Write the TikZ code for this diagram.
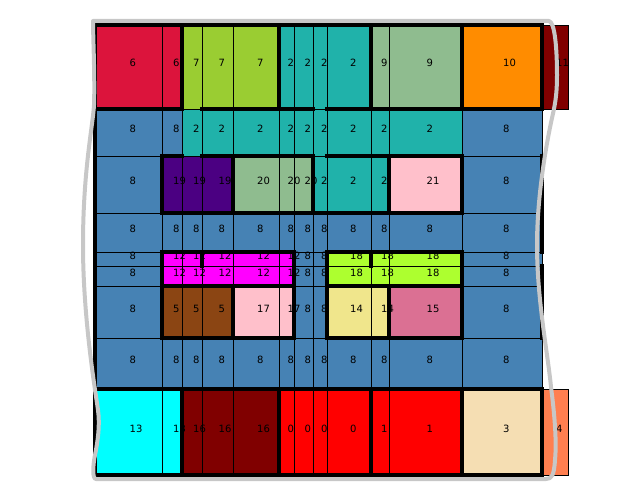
\documentclass[tikz,border=0pt]{standalone}
\usepackage{fontspec}
\setmainfont{DejaVu Sans}
\usepackage{tikz}
\usetikzlibrary{backgrounds}

\definecolor{crimsonc}{HTML}{DC143C}
\definecolor{ygreenc}{HTML}{9ACD32}
\definecolor{lseac}{HTML}{20B2AA}
\definecolor{dseac}{HTML}{8FBC8F}
\definecolor{dorangec}{HTML}{FF8C00}
\definecolor{maroonc}{HTML}{800000}
\definecolor{steelc}{HTML}{4682B4}
\definecolor{indigoc}{HTML}{4B0082}
\definecolor{pinkc}{HTML}{FFC0CB}
\definecolor{magentac}{HTML}{FF00FF}
\definecolor{gyellowc}{HTML}{ADFF2F}
\definecolor{brownc}{HTML}{8B4513}
\definecolor{khakic}{HTML}{F0E68C}
\definecolor{pvioletc}{HTML}{DB7093}
\definecolor{cyanc}{HTML}{00FFFF}
\definecolor{redc}{HTML}{FF0000}
\definecolor{wheatc}{HTML}{F5DEB3}
\definecolor{coralc}{HTML}{FF7F50}

% celda: x izq, x der, y sup, y inf, etiqueta, color
\newcommand{\celda}[6]{%
  \begin{scope}[on background layer]
    \draw[cell, fill=#6] (#1,#3) rectangle (#2,#4);
  \end{scope}
  \node[lbl] (n-#1-#3) at ({(#1+#2)/2+1},{(#3+#4)/2}) {#5};
}

\begin{document}
\begin{tikzpicture}[
		x=1pt, y=-1pt,
		font=\fontsize{10}{12}\selectfont,
		cell/.style={draw=black, line width=0.8pt},
		lbl/.style={anchor=base west, inner sep=0pt, text=black},
		wall/.style={draw=black, line width=4.5pt, line cap=rect},
		outline/.style={draw=black!22, line width=4pt, line join=round}
		]
		\useasboundingbox (0,0) rectangle (640,500);
		
		% 1. Fila superior
		\foreach \xa/\xb/\n/\c in {95/162/6/crimsonc, 162/182/6/crimsonc,
			182/202/7/ygreenc, 202/233/7/ygreenc, 233/279/7/ygreenc,
			279/294/2/lseac, 294/313/2/lseac, 313/327/2/lseac, 327/371/2/lseac,
			371/389/9/dseac, 389/462/9/dseac, 462/542/10/dorangec, 542/568/11/maroonc}
		{\celda{\xa}{\xb}{25}{109}{\n}{\c}}
		
		% 2. Filas centrales
		\foreach \xa/\xb/\n/\c in {95/162/8/steelc, 162/182/8/steelc,
			182/202/2/lseac, 202/233/2/lseac, 233/279/2/lseac, 279/294/2/lseac,
			294/313/2/lseac, 313/327/2/lseac, 327/371/2/lseac, 371/389/2/lseac,
			389/462/2/lseac, 462/542/8/steelc}
		{\celda{\xa}{\xb}{109}{156}{\n}{\c}}
		
		\foreach \xa/\xb/\n/\c in {95/162/8/steelc, 162/182/19/indigoc,
			182/202/19/indigoc, 202/233/19/indigoc, 233/279/20/dseac,
			279/294/20/dseac, 294/313/20/dseac, 313/327/2/lseac, 327/371/2/lseac,
			371/389/2/lseac, 389/462/21/pinkc, 462/542/8/steelc}
		{\celda{\xa}{\xb}{156}{213}{\n}{\c}}
		
		\foreach \xa/\xb in {95/162, 162/182, 182/202, 202/233, 233/279, 279/294,
			294/313, 313/327, 327/371, 371/389, 389/462, 462/542}
		{\celda{\xa}{\xb}{213}{252}{8}{steelc}
			\celda{\xa}{\xb}{338}{389}{8}{steelc}}
		
		\foreach \ya/\yb in {252/266, 266/286}
		\foreach \xa/\xb/\n/\c in {95/162/8/steelc, 162/182/12/magentac,
			182/202/12/magentac, 202/233/12/magentac, 233/279/12/magentac,
			279/294/12/magentac, 294/313/8/steelc, 313/327/8/steelc,
			327/371/18/gyellowc, 371/389/18/gyellowc, 389/462/18/gyellowc,
			462/542/8/steelc}
		{\celda{\xa}{\xb}{\ya}{\yb}{\n}{\c}}
		
		\foreach \xa/\xb/\n/\c in {95/162/8/steelc, 162/182/5/brownc,
			182/202/5/brownc, 202/233/5/brownc, 233/279/17/pinkc, 279/294/17/pinkc,
			294/313/8/steelc, 313/327/8/steelc, 327/371/14/khakic,
			371/389/14/khakic, 389/462/15/pvioletc, 462/542/8/steelc}
		{\celda{\xa}{\xb}{286}{338}{\n}{\c}}
		
		% 3. Fila inferior
		\foreach \xa/\xb/\n/\c in {95/162/13/cyanc, 162/182/13/cyanc,
			182/202/16/maroonc, 202/233/16/maroonc, 233/279/16/maroonc,
			279/294/0/redc, 294/313/0/redc, 313/327/0/redc, 327/371/0/redc,
			371/389/1/redc, 389/462/1/redc, 462/542/3/wheatc, 542/568/4/coralc}
		{\celda{\xa}{\xb}{389}{475}{\n}{\c}}
		
		% 4. Muros gruesos
		\draw[wall] (542,25) -- (95,25) -- (95,475) -- (542,475);
		\draw[wall] (542,25) -- (542,109) (542,156) -- (542,252)
		(542,266) -- (542,338) (542,389) -- (542,475);
		\draw[wall] (95,109) -- (182,109) (202,109) -- (313,109) (327,109) -- (542,109);
		\draw[wall] (162,156) -- (182,156) (202,156) -- (313,156) (327,156) -- (462,156);
		\draw[wall] (162,213) -- (462,213);
		\draw[wall] (162,252) -- (294,252) (327,252) -- (462,252);
		\draw[wall] (162,286) -- (294,286) (327,286) -- (462,286);
		\draw[wall] (162,338) -- (294,338) (327,338) -- (462,338);
		\draw[wall] (95,389) -- (542,389);
		\draw[wall] (162,156) -- (162,213) (162,252) -- (162,338);
		\draw[wall] (182,25) -- (182,109) (182,389) -- (182,475);
		\draw[wall] (202,252) -- (202,266);
		\draw[wall] (233,156) -- (233,213) (233,286) -- (233,338);
		\draw[wall] (279,25) -- (279,109) (279,389) -- (279,475);
		\draw[wall] (294,252) -- (294,338);
		\draw[wall] (313,156) -- (313,213);
		\draw[wall] (327,252) -- (327,338);
		\draw[wall] (371,25) -- (371,109) (371,252) -- (371,266) (371,389) -- (371,475);
		\draw[wall] (389,156) -- (389,213) (389,286) -- (389,338);
		\draw[wall] (462,25) -- (462,109) (462,156) -- (462,213)
		(462,252) -- (462,338) (462,389) -- (462,475);
		
		% 5. Contorno gris
		\draw[outline] (93,21) -- (549,21)
		.. controls (555,22) and (557,50) .. (557,75)
		.. controls (557,95) and (555,105) .. (552,118)
		.. controls (545,150) and (537,200) .. (537,245)
		.. controls (537,300) and (548,355) .. (551,387)
		.. controls (554,410) and (557,440) .. (555,460)
		.. controls (554,475) and (552,479) .. (546,479)
		-- (96,479)
		.. controls (92,479) and (93,465) .. (95,455)
		.. controls (98,440) and (100,425) .. (98,410)
		.. controls (96,395) and (83,320) .. (83,245)
		.. controls (83,170) and (93,125) .. (94,105)
		.. controls (95,80) and (93,35) .. (93,21) -- cycle;
		
	\end{tikzpicture}
\end{document}
